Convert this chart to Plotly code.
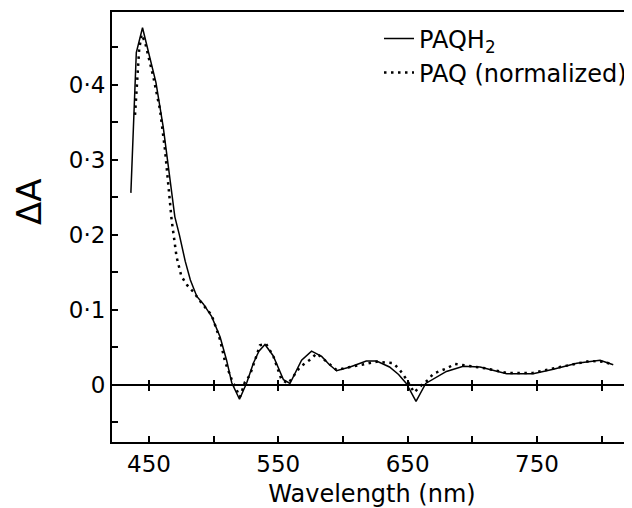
import plotly.graph_objects as go

# PAQH2 (solid)
wl_paqh2 = [436, 438.4, 440.2, 445, 450, 455.4, 461, 465, 470, 473.5, 478, 482, 487, 492,
            498.5, 505, 510, 514, 520, 525.6, 530.7, 535, 539.7, 546, 554, 559, 568, 575.7,
            583.5, 589, 595, 605.5, 618, 626, 636, 643, 649, 656.5, 664, 680, 693, 706,
            726.6, 747, 762.7, 780.8, 798.8, 809]
dA_paqh2 = [0.256, 0.363, 0.443, 0.476, 0.44, 0.403, 0.344, 0.287, 0.224, 0.200, 0.165, 0.140,
            0.118, 0.108, 0.091, 0.064, 0.033, 0.003, -0.019, 0.003, 0.029, 0.045, 0.054, 0.039,
            0.007, 0.002, 0.033, 0.045, 0.038, 0.028, 0.019, 0.024, 0.032, 0.032, 0.024, 0.014,
            0.002, -0.022, 0.002, 0.018, 0.025, 0.024, 0.015, 0.015, 0.021, 0.029, 0.033, 0.027]

# PAQ normalized (dotted)
wl_paq = [439.2, 440.9, 442.4, 444.3, 446.9, 453.3, 458.5, 462.4, 465, 467.5, 471.3, 475,
          479.5, 484.3, 490.8, 498.5, 505, 508.8, 514, 520.4, 524.2, 528, 532, 535.8, 540.5,
          546, 552.5, 557.7, 566.8, 574, 579.7, 587.4, 595, 605.5, 626, 639, 644, 649.3, 655,
          661, 666, 669.8, 680, 686.7, 698, 711, 726.6, 747, 767.9, 780.8, 791, 801.4, 809]
dA_paq = [0.36, 0.407, 0.447, 0.467, 0.457, 0.411, 0.367, 0.313, 0.264, 0.22, 0.171, 0.145,
          0.133, 0.124, 0.109, 0.093, 0.06, 0.031, 0.007, -0.016, 0.004, 0.013, 0.033, 0.053,
          0.055, 0.039, 0.007, 0.002, 0.024, 0.033, 0.042, 0.031, 0.02, 0.024, 0.031, 0.029,
          0.02, 0.007, -0.01, 0.0, 0.007, 0.015, 0.022, 0.028, 0.025, 0.022, 0.016, 0.016,
          0.024, 0.028, 0.032, 0.031, 0.027]

x_tickvals = [450, 550, 650, 750]
x_ticktext = ["450", "550", "650", "750"]
x_minor = [500, 600, 700, 800]
y_tickvals = [0, 0.1, 0.2, 0.3, 0.4]
y_ticktext = ["0", "0·1", "0·2", "0·3", "0·4"]
y_minor = [-0.05, 0.05, 0.15, 0.25, 0.35, 0.45]

x_range = [421.4, 823.5]
y_range = [-0.076, 0.497]
FONT = "DejaVu Sans"

fig = go.Figure()
fig.add_trace(go.Scatter(x=wl_paqh2, y=dA_paqh2, mode="lines", name="PAQH<sub>2</sub>",
                         line=dict(color="black", width=1.5), xaxis="x"))
fig.add_trace(go.Scatter(x=wl_paq, y=dA_paq, mode="lines", name="PAQ (normalized)",
                         line=dict(color="black", width=2.5, dash="2.5px,4.5px"), xaxis="x2"))

zero_frac = (0 - y_range[0]) / (y_range[1] - y_range[0])
plot_h = 430

# page body has an 8px margin: figure is 624x500 so it ends at the window edge
fig.update_layout(
    width=624, height=500,
    margin=dict(l=104, r=0, t=4, b=66),
    paper_bgcolor="white", plot_bgcolor="white",
    font=dict(family=FONT, color="black", size=22),
    showlegend=True,
    legend=dict(x=1.0, xanchor="right", y=0.99, yanchor="top", bgcolor="rgba(0,0,0,0)",
                font=dict(family=FONT, size=24, color="black"), tracegroupgap=0),
    xaxis=dict(range=x_range, showgrid=False, zeroline=False, showline=True, mirror=True,
               linecolor="black", linewidth=2, ticks="inside", ticklen=6, tickwidth=1.5,
               tickcolor="black", tickvals=x_tickvals, ticktext=x_ticktext,
               tickfont=dict(family=FONT, size=23),
               minor=dict(tickvals=x_minor, ticks="inside", ticklen=6, tickwidth=1.5,
                          tickcolor="black", showgrid=False),
               title=dict(text="Wavelength (nm)", font=dict(family=FONT, size=24), standoff=12)),
    xaxis2=dict(range=x_range, overlaying="x", anchor="free",
                position=zero_frac + 5.5 / plot_h, side="bottom",
                showgrid=False, zeroline=False, showline=False, showticklabels=False,
                ticks="outside", ticklen=11, tickwidth=1.5, tickcolor="black",
                tickvals=x_tickvals + x_minor),
    yaxis=dict(range=y_range, showgrid=False, zeroline=True, zerolinecolor="black",
               zerolinewidth=1.5, showline=True, linecolor="black", linewidth=2,
               ticks="inside", ticklen=6, tickwidth=1.5, tickcolor="black",
               tickvals=y_tickvals, ticktext=y_ticktext, tickfont=dict(family=FONT, size=23),
               minor=dict(tickvals=y_minor, ticks="inside", ticklen=6, tickwidth=1.5,
                          tickcolor="black", showgrid=False)),
    annotations=[dict(text="ΔA", xref="paper", yref="paper", x=(29 - 112) / 520,
                      y=(442 - 202) / plot_h, showarrow=False, textangle=-90,
                      font=dict(family=FONT, size=34, color="black"),
                      xanchor="center", yanchor="middle")],
)

fig.write_html("out.html")
